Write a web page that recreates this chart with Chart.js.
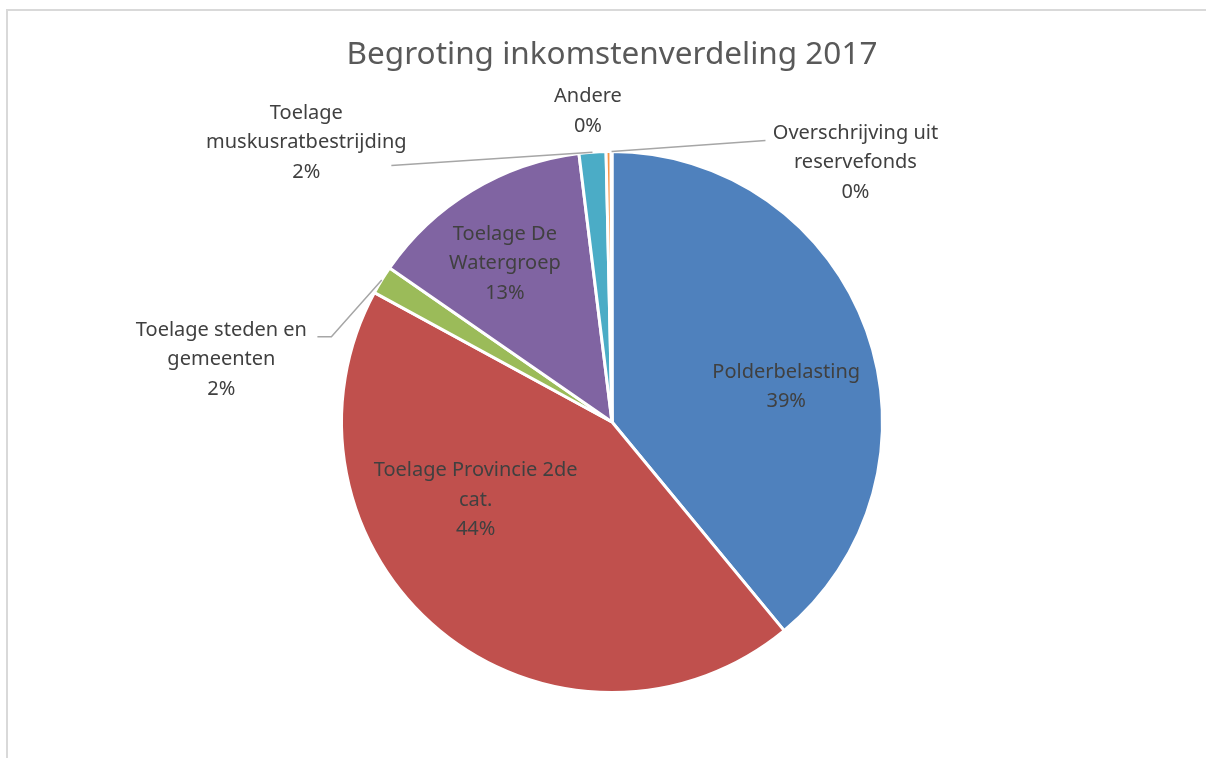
<!DOCTYPE html>
<html>
<head>
<meta charset="utf-8">
<script src="https://cdn.jsdelivr.net/npm/chart.js@4.4.0/dist/chart.umd.min.js"></script>
<style>
  body { margin: 0; background: #fff; overflow: hidden; }
  #wrap { position: relative; width: 1206px; height: 758px; }
  #frame { position: absolute; left: 6px; top: 9px; width: 1400px; height: 900px; border: 2px solid #d9d9d9; }
  canvas { position: absolute; left: 0; top: 0; }
</style>
</head>
<body>
<div id="wrap">
  <div id="frame"></div>
  <canvas id="pieChart" width="1206" height="758"></canvas>
</div>
<script>
// data (percent of the 2017 income budget)
const categories = [
  "Polderbelasting",
  "Toelage Provincie 2de cat.",
  "Toelage steden en gemeenten",
  "Toelage De Watergroep",
  "Toelage muskusratbestrijding",
  "Andere",
  "Overschrijving uit reservefonds"
];
const values = [39.0, 43.9, 1.7, 13.4, 1.6, 0.3, 0.05];
const chartTitle = "Begroting inkomstenverdeling 2017";

// how each label is broken into lines, like the original
const labelLines = [
  ["Polderbelasting"],
  ["Toelage Provincie 2de", "cat."],
  ["Toelage steden en", "gemeenten"],
  ["Toelage De", "Watergroep"],
  ["Toelage", "muskusratbestrijding"],
  ["Andere"],
  ["Overschrijving uit", "reservefonds"]
];

const colors = ["#4F81BD", "#C0504D", "#9BBB59", "#8064A2", "#4BACC6", "#F79646", "#2C4D75"];

// label block centre, relative to pie centre in units of radius
const labelPos = [
  [0.644, -0.130],
  [-0.504, 0.289],
  [-1.444, -0.230],
  [-0.396, -0.585],
  [-1.130, -1.033],
  [-0.089, -1.148],
  [0.900, -0.959]
];
// leader lines: points (px) relative to label centre, then to slice edge
const leaders = {
  2: [[96, -23], [110, -23]],
  4: [[85, 23]],
  6: [[-90, -22]]
};

const labelPlugin = {
  id: "pieLabels",
  afterDraw(chart) {
    const ctx = chart.ctx;
    const meta = chart.getDatasetMeta(0);
    const total = values.reduce((a, b) => a + b, 0);

    ctx.save();
    // title
    ctx.fillStyle = "#595959";
    ctx.font = "31.5px 'Noto Sans'";
    ctx.textAlign = "center";
    ctx.textBaseline = "middle";
    ctx.fillText(chartTitle, 612, 55);

    ctx.font = "20px 'Noto Sans'";
    meta.data.forEach((arc, i) => {
      const r = arc.outerRadius;
      const cx = arc.x + labelPos[i][0] * r;
      const cy = arc.y + labelPos[i][1] * r;
      const lines = labelLines[i].concat([Math.round(values[i] / total * 100) + "%"]);
      const lh = 29.5;
      const top = cy - (lines.length - 1) * lh / 2;
      ctx.fillStyle = "#404040";
      lines.forEach((t, k) => ctx.fillText(t, cx, top + k * lh));

      if (leaders[i]) {
        const mid = (arc.startAngle + arc.endAngle) / 2;
        const ex = arc.x + r * Math.cos(mid);
        const ey = arc.y + r * Math.sin(mid);
        ctx.strokeStyle = "#a6a6a6";
        ctx.lineWidth = 1.5;
        ctx.beginPath();
        leaders[i].forEach((p, k) => {
          if (k === 0) ctx.moveTo(cx + p[0], cy + p[1]);
          else ctx.lineTo(cx + p[0], cy + p[1]);
        });
        ctx.lineTo(ex, ey);
        ctx.stroke();
      }
    });
    ctx.restore();
  }
};

new Chart("pieChart", {
  type: "pie",
  data: {
    labels: categories,
    datasets: [{
      data: values,
      backgroundColor: colors,
      borderColor: "#ffffff",
      borderWidth: 3
    }]
  },
  options: {
    responsive: false,
    animation: false,
    layout: { padding: { left: 340, right: 322, top: 150, bottom: 64 } },
    plugins: {
      legend: { display: false },
      tooltip: { enabled: false },
      title: { display: false }
    }
  },
  plugins: [labelPlugin]
});
</script>
</body>
</html>
